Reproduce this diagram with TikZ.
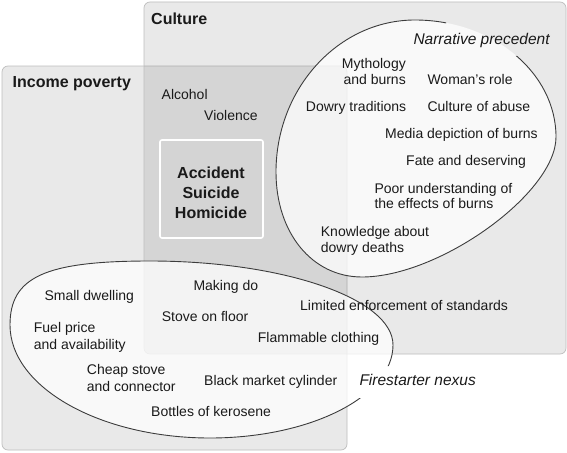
\documentclass[tikz,border=0pt]{standalone}
\usepackage{fontspec}
\setmainfont{Liberation Sans}
\definecolor{txt}{HTML}{1A1A1A}
\definecolor{edge}{HTML}{BDBDBD}
\definecolor{curve}{HTML}{3C3C3C}
\tikzset{
  lbl/.style={anchor=base west, inner sep=0pt, text=txt, font=\fontsize{14}{16}\selectfont},
  hd/.style={anchor=base west, inner sep=0pt, text=txt, font=\fontsize{16}{18}\selectfont\bfseries},
  ctr/.style={anchor=base, inner sep=0pt, text=txt, font=\fontsize{16}{18}\selectfont\bfseries},
  itl/.style={anchor=base west, inner sep=0pt, text=txt, font=\fontsize{15.5}{18}\selectfont\itshape},
  zone/.style={fill=black, fill opacity=0.085, draw=edge, line width=0.7pt, rounded corners=6pt},
  blob/.style={fill=white, fill opacity=0.74},
  blobline/.style={draw=curve, line width=0.9pt},
  narrpath/.style={insert path={
    (415,20) .. controls (492.6,20) and (556,72.6) .. (556,137)
    .. controls (556,193) and (439.6,277) .. (362,277)
    .. controls (312.1,277) and (276,232.9) .. (276,172)
    .. controls (276,88.4) and (338.5,20) .. (415,20) -- cycle}},
  firepath/.style={insert path={
    (150,261) .. controls (283.6,261) and (393,298.8) .. (393,345)
    .. controls (393,396.2) and (310.6,438) .. (210,438)
    .. controls (100,438) and (10,387.2) .. (10,325)
    .. controls (10,277) and (45,261) .. (150,261) -- cycle}},
}
\begin{document}
\begin{tikzpicture}[x=1pt,y=-1pt]
\useasboundingbox (0,0) rectangle (567,452);
% zones
\path[zone] (2,66) rectangle (347,450);
\path[zone] (144,2) rectangle (566,354);
% central box
\path[fill=black!17, draw=white, line width=1.6pt, rounded corners=2pt] (160,140) rectangle (263,238);
% blobs
\path[blob, narrpath];
\path[blob, firepath];
\begin{scope}
  \clip (0,0) -- (567,0) -- (567,452) -- (0,452) -- cycle
        (446,16) -- (446,56) -- (552,56) -- (552,16) -- cycle
        (355,366) -- (355,398) -- (478,398) -- (478,366) -- cycle;
  \path[blobline, narrpath];
  \path[blobline, firepath];
\end{scope}
% headings
\node[hd] (culture) at (151,24.5) {Culture};
\node[hd] (income) at (12.5,87.5) {Income poverty};
\node[lbl] (alcohol) at (161.5,99) {Alcohol};
\node[lbl] (violence) at (204,120) {Violence};
\node[ctr] (acc) at (211,178.3) {Accident};
\node[ctr] (sui) at (211,198.3) {Suicide};
\node[ctr] (hom) at (211,218.3) {Homicide};
% narrative
\node[itl] (narr) at (413.3,45) {Narrative precedent};
\node[lbl, anchor=base east] (myth1) at (406,68.3) {Mythology};
\node[lbl, anchor=base east] (myth2) at (406,84) {and burns};
\node[lbl] (woman) at (427.3,84) {Woman’s role};
\node[lbl] (dowry) at (305.7,111.7) {Dowry traditions};
\node[lbl] (abuse) at (427.3,111.7) {Culture of abuse};
\node[lbl] (media) at (385,138.3) {Media depiction of burns};
\node[lbl] (fate) at (406,165) {Fate and deserving};
\node[lbl] (poor1) at (374.3,193.3) {Poor understanding of};
\node[lbl] (poor2) at (374.3,208.8) {the effects of burns};
\node[lbl] (know1) at (320.7,236.7) {Knowledge about};
\node[lbl] (know2) at (320.7,252) {dowry deaths};
% firestarter
\node[itl] (fire) at (359.3,385) {Firestarter nexus};
\node[lbl] (small) at (44.3,300.7) {Small dwelling};
\node[lbl] (making) at (193.3,290) {Making do};
\node[lbl] (limited) at (300,310.7) {Limited enforcement of standards};
\node[lbl] (stove) at (161.7,321.7) {Stove on floor};
\node[lbl] (fuel1) at (33.7,332.3) {Fuel price};
\node[lbl] (fuel2) at (33.7,349.3) {and availability};
\node[lbl] (flam) at (257.7,342.3) {Flammable clothing};
\node[lbl] (cheap1) at (86.7,374.3) {Cheap stove};
\node[lbl] (cheap2) at (86.7,391) {and connector};
\node[lbl] (black) at (204,385) {Black market cylinder};
\node[lbl] (bottles) at (151,416.7) {Bottles of kerosene};
\end{tikzpicture}
\end{document}
